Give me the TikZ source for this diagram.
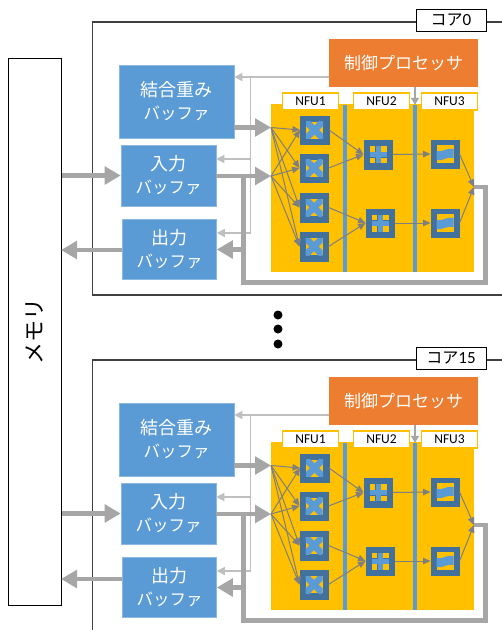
\documentclass[tikz,border=0pt]{standalone}
\usepackage{fontspec}
\setmainfont{Noto Sans CJK JP}
\newfontfamily\latinfont{Carlito}
\usetikzlibrary{arrows.meta}
\definecolor{bufblue}{HTML}{5B9BD5}
\definecolor{cellblue}{HTML}{41719C}
\definecolor{nfuyellow}{HTML}{FFC000}
\definecolor{ctlorange}{HTML}{ED7D31}
\definecolor{pathgray}{HTML}{A6A6A6}
\definecolor{ctlgray}{HTML}{BFBFBF}
\definecolor{wiregray}{HTML}{7F7F7F}
\newcommand{\bufword}{{\fontsize{16.5}{23}\selectfont バッファ}}
\tikzset{
    bufbox/.style={fill=bufblue, draw=bufblue!70!white, line width=0.6pt, text=white, inner sep=0pt, align=center,
        font=\fontsize{18}{23}\selectfont},
    cellbox/.style={fill=cellblue, draw=cellblue, line width=0.5pt, inner sep=0pt, minimum size=28.5pt},
    xcell/.style={cellbox, path picture={
        \begin{scope}[shift={(path picture bounding box.center)}]
            \fill [nfuyellow] (-8.5,-8.5) rectangle (8.5,8.5);
            \clip (-8.5,-8.5) rectangle (8.5,8.5);
            \draw [bufblue, line width=6.5pt] (-8.5,-8.5) -- (8.5,8.5);
            \draw [bufblue, line width=6.5pt] (-8.5,8.5) -- (8.5,-8.5);
        \end{scope}}},
    pluscell/.style={cellbox, path picture={
        \begin{scope}[shift={(path picture bounding box.center)}]
            \fill [nfuyellow] (-8.5,-8.5) rectangle (-3,-3);
            \fill [nfuyellow] (3,-8.5) rectangle (8.5,-3);
            \fill [nfuyellow] (-8.5,3) rectangle (-3,8.5);
            \fill [nfuyellow] (3,3) rectangle (8.5,8.5);
            \draw [bufblue, line width=5pt] (-8.5,0) -- (8.5,0);
            \draw [bufblue, line width=5pt] (0,-8.5) -- (0,8.5);
        \end{scope}}},
    wavecell/.style={cellbox, path picture={
        \begin{scope}[shift={(path picture bounding box.center)}]
            \fill [nfuyellow] (-8.5,-9) rectangle (8.5,9);
            \fill [bufblue] (-8.5,-3) .. controls (-3,-1) and (2,-7) .. (8.5,-5) -- (8.5,4) .. controls (2,2) and (-3,8) .. (-8.5,6) -- cycle;
        \end{scope}}},
    nfulabel/.style={fill=white, draw=nfuyellow, line width=1.1pt, inner sep=0pt, minimum width=56pt, minimum height=17pt,
        font=\latinfont\fontsize{13.5}{15}\selectfont},
    barnode/.style={fill=bufblue, inner sep=0pt, minimum width=3.6pt, minimum height=167pt},
    bigarrow/.style={pathgray, line width=4.5pt, -{Triangle[length=16pt,width=17.5pt]}},
    bigline/.style={pathgray, line width=4.6pt},
    ctlline/.style={ctlgray, line width=1.3pt},
    ctlarrow/.style={ctlgray, line width=1.3pt, -{Triangle[length=8pt,width=8pt]}},
    wirearrow/.style={wiregray, line width=1pt, -{Triangle[length=7.5pt,width=6.5pt]}},
    dotnode/.style={circle, fill=black, inner sep=0pt, minimum size=9pt}
}
\begin{document}
\begin{tikzpicture}[x=1pt, y=-1pt]
    \useasboundingbox (0,0) rectangle (502,630);
    \clip (0,0) rectangle (502,630);
    \fill [white] (0,0) rectangle (502,630);
    \node [draw=black, line width=1pt, rotate=90, inner sep=0pt, minimum width=547pt, minimum height=52.5pt,
        font=\fontsize{22}{24}\selectfont] (mem) at (34.75,331.5) {メモリ};
    \foreach \y in {315,329,344} {
        \node [dotnode] (dot\y) at (278,\y) {};
    }
    \foreach \core/\dy/\oy/\corenum in {a/0/250/0, b/338/241/15} {
        \begin{scope}[shift={(0,\dy)}]
            \draw [black!75, line width=1.3pt] (510,22) -- (92.5,22) -- (92.5,295) -- (510,295);
            \node [fill=white, draw=black, line width=1pt, inner sep=0pt, minimum width=70pt, minimum height=22pt,
                font=\fontsize{16}{17}\selectfont] (\core-name) at (451,20) {コア{\latinfont\fontsize{17}{17}\selectfont\corenum}};
            \node [fill=nfuyellow, inner sep=0pt, minimum width=203pt, minimum height=168pt] (\core-nfu) at (372.5,188) {};
            \node [barnode] (\core-bara) at (345,188.5) {};
            \node [barnode] (\core-barb) at (415,188.5) {};
            \node [nfulabel] (\core-la) at (310.5,101.5) {NFU1};
            \node [nfulabel] (\core-lb) at (381.5,101.5) {NFU2};
            \node [nfulabel] (\core-lc) at (449.5,101.5) {NFU3};
            \node [fill=ctlorange, text=white, inner sep=0pt, minimum width=149pt, minimum height=48pt,
                font=\fontsize{17}{20}\selectfont] (\core-ctl) at (403.5,63) {制御プロセッサ};
            \node [bufbox, minimum width=115pt, minimum height=73pt] (\core-wb) at (176.5,101.5) {結合重み\\\bufword};
            \node [bufbox, minimum width=95pt, minimum height=61pt] (\core-in) at (168.5,175.5) {入力\\\bufword};
            \node [bufbox, minimum width=94pt, minimum height=59.5pt] (\core-out) at (169.5,249.5) {出力\\\bufword};
            \node [xcell] (\core-fa1) at (314.5,130) {};
            \node [xcell] (\core-fa2) at (314,168) {};
            \node [xcell] (\core-fa3) at (314,207.5) {};
            \node [xcell] (\core-fa4) at (314,246.5) {};
            \node [pluscell] (\core-fb1) at (378,154.5) {};
            \node [pluscell] (\core-fb2) at (380,223) {};
            \node [wavecell] (\core-fc1) at (445,154) {};
            \node [wavecell] (\core-fc2) at (445,223) {};
            \coordinate (\core-pinw) at (271,127.5);
            \coordinate (\core-pini) at (271,176);
            \coordinate (\core-join) at (474,187);
            \coordinate (\core-ct) at (250.5,77);
            \coordinate (\core-ci) at (250.5,159);
            \coordinate (\core-co) at (250.5,233);
            \coordinate (\core-fr) at (485.5,187);
            \coordinate (\core-fs) at (485.5,282.5);
            \coordinate (\core-fl) at (243.3,282.5);
            \coordinate (\core-fo) at (243.3,249.5);
            \coordinate (\core-fi) at (243.3,176);
            \coordinate (\core-mo) at (61,\oy);
            \draw [ctlarrow] (\core-ctl.west |- \core-ct) -- (\core-wb.east |- \core-ct);
            \draw [ctlline] (\core-ct) -- (\core-co);
            \draw [ctlarrow] (\core-ci) -- (\core-in.east |- \core-ci);
            \draw [ctlarrow] (\core-co) -- (\core-out.east |- \core-co);
            \draw [pathgray, line width=1.3pt, -{Triangle[length=7pt,width=8pt]}] (\core-ctl.south -| \core-barb.north) -- (\core-barb.north);
            \foreach \n in {1,2,3,4} {
                \draw [wirearrow] (\core-pinw) -- (\core-fa\n.west);
                \draw [wirearrow] (\core-pini) -- (\core-fa\n.west);
            }
            \draw [wirearrow] (\core-fa1.east) -- (\core-fb1.west);
            \draw [wirearrow] (\core-fa2.east) -- (\core-fb1.west);
            \draw [wirearrow] (\core-fa3.east) -- (\core-fb2.west);
            \draw [wirearrow] (\core-fa4.east) -- (\core-fb2.west);
            \draw [wirearrow] (\core-fb1.east) -- (\core-fc1.west);
            \draw [wirearrow] (\core-fb2.east) -- (\core-fc2.west);
            \draw [wirearrow] (\core-fc1.east) -- (\core-join);
            \draw [wirearrow] (\core-fc2.east) -- (\core-join);
            \draw [bigarrow] (\core-wb.east |- \core-pinw) -- (\core-pinw);
            \draw [bigarrow] (\core-in.east |- \core-pini) -- (\core-pini);
            \draw [bigarrow] (mem.south |- \core-in.west) -- (\core-in.west);
            \draw [bigarrow] (\core-out.west |- \core-mo) -- (\core-mo);
            \draw [bigline] (\core-join) -- (\core-fr) -- (\core-fs) -- (\core-fl) -- (\core-fi);
            \draw [bigarrow] (\core-fo) -- (\core-out.east |- \core-fo);
        \end{scope}
    }
\end{tikzpicture}
\end{document}
